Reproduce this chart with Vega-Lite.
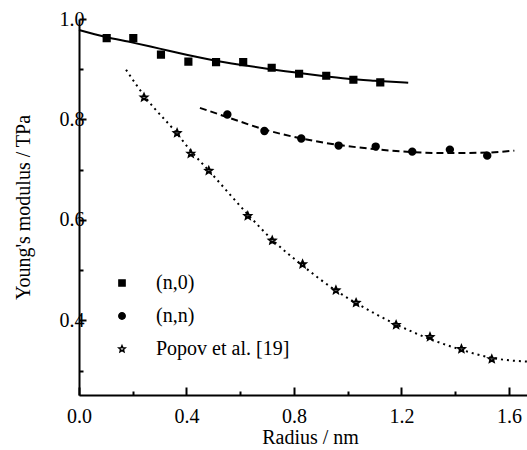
{
  "$schema": "https://vega.github.io/schema/vega-lite/v6.json",
  "width": 448,
  "height": 376,
  "autosize": {"type": "none"},
  "padding": {"left": 79, "top": 19, "right": 0, "bottom": 55},
  "background": "white",
  "config": {
    "view": {"stroke": null},
    "font": "Liberation Serif",
    "axis": {
      "labelFont": "Liberation Serif",
      "labelFontSize": 20,
      "labelColor": "black",
      "titleFont": "Liberation Serif",
      "titleFontSize": 20,
      "titleFontWeight": "normal",
      "titleColor": "black",
      "domainColor": "black",
      "domainWidth": 2,
      "tickColor": "black",
      "tickWidth": 2,
      "grid": false
    },
    "legend": {
      "labelFont": "Liberation Serif",
      "labelFontSize": 20,
      "labelColor": "black"
    }
  },
  "datasets": {
    "pts": [
      {"series": "(n,0)", "r": 0.103, "E": 0.962},
      {"series": "(n,0)", "r": 0.202, "E": 0.962},
      {"series": "(n,0)", "r": 0.305, "E": 0.929},
      {"series": "(n,0)", "r": 0.407, "E": 0.915},
      {"series": "(n,0)", "r": 0.510, "E": 0.914},
      {"series": "(n,0)", "r": 0.611, "E": 0.914},
      {"series": "(n,0)", "r": 0.717, "E": 0.903},
      {"series": "(n,0)", "r": 0.819, "E": 0.891},
      {"series": "(n,0)", "r": 0.920, "E": 0.887},
      {"series": "(n,0)", "r": 1.021, "E": 0.879},
      {"series": "(n,0)", "r": 1.121, "E": 0.874},
      {"series": "(n,n)", "r": 0.552, "E": 0.810},
      {"series": "(n,n)", "r": 0.690, "E": 0.777},
      {"series": "(n,n)", "r": 0.827, "E": 0.762},
      {"series": "(n,n)", "r": 0.966, "E": 0.748},
      {"series": "(n,n)", "r": 1.104, "E": 0.746},
      {"series": "(n,n)", "r": 1.240, "E": 0.736},
      {"series": "(n,n)", "r": 1.380, "E": 0.740},
      {"series": "(n,n)", "r": 1.519, "E": 0.728},
      {"series": "Popov et al. [19]", "r": 0.242, "E": 0.844},
      {"series": "Popov et al. [19]", "r": 0.365, "E": 0.773},
      {"series": "Popov et al. [19]", "r": 0.416, "E": 0.732},
      {"series": "Popov et al. [19]", "r": 0.483, "E": 0.698},
      {"series": "Popov et al. [19]", "r": 0.628, "E": 0.608},
      {"series": "Popov et al. [19]", "r": 0.719, "E": 0.559},
      {"series": "Popov et al. [19]", "r": 0.832, "E": 0.512},
      {"series": "Popov et al. [19]", "r": 0.956, "E": 0.460},
      {"series": "Popov et al. [19]", "r": 1.031, "E": 0.435},
      {"series": "Popov et al. [19]", "r": 1.180, "E": 0.391},
      {"series": "Popov et al. [19]", "r": 1.306, "E": 0.367},
      {"series": "Popov et al. [19]", "r": 1.423, "E": 0.343},
      {"series": "Popov et al. [19]", "r": 1.536, "E": 0.323}
    ],
    "curves": [
      {"fit": "a", "r": 0.0, "E": 0.978},
      {"fit": "a", "r": 0.1, "E": 0.964},
      {"fit": "a", "r": 0.2, "E": 0.953},
      {"fit": "a", "r": 0.3, "E": 0.941},
      {"fit": "a", "r": 0.4, "E": 0.929},
      {"fit": "a", "r": 0.5, "E": 0.918},
      {"fit": "a", "r": 0.6, "E": 0.909},
      {"fit": "a", "r": 0.7, "E": 0.901},
      {"fit": "a", "r": 0.8, "E": 0.894},
      {"fit": "a", "r": 0.9, "E": 0.887},
      {"fit": "a", "r": 1.0, "E": 0.881},
      {"fit": "a", "r": 1.1, "E": 0.877},
      {"fit": "a", "r": 1.225, "E": 0.873},
      {"fit": "b", "r": 0.45, "E": 0.823},
      {"fit": "b", "r": 0.55, "E": 0.805},
      {"fit": "b", "r": 0.69, "E": 0.780},
      {"fit": "b", "r": 0.83, "E": 0.762},
      {"fit": "b", "r": 0.97, "E": 0.749},
      {"fit": "b", "r": 1.10, "E": 0.741},
      {"fit": "b", "r": 1.24, "E": 0.735},
      {"fit": "b", "r": 1.38, "E": 0.733},
      {"fit": "b", "r": 1.52, "E": 0.734},
      {"fit": "b", "r": 1.62, "E": 0.738},
      {"fit": "c", "r": 0.175, "E": 0.899},
      {"fit": "c", "r": 0.25, "E": 0.842},
      {"fit": "c", "r": 0.36, "E": 0.775},
      {"fit": "c", "r": 0.42, "E": 0.735},
      {"fit": "c", "r": 0.48, "E": 0.700},
      {"fit": "c", "r": 0.63, "E": 0.610},
      {"fit": "c", "r": 0.72, "E": 0.560},
      {"fit": "c", "r": 0.83, "E": 0.510},
      {"fit": "c", "r": 0.96, "E": 0.458},
      {"fit": "c", "r": 1.03, "E": 0.435},
      {"fit": "c", "r": 1.18, "E": 0.392},
      {"fit": "c", "r": 1.31, "E": 0.362},
      {"fit": "c", "r": 1.42, "E": 0.342},
      {"fit": "c", "r": 1.54, "E": 0.325},
      {"fit": "c", "r": 1.667, "E": 0.318}
    ]
  },
  "encoding": {
    "x": {
      "field": "r", "type": "quantitative",
      "scale": {"domain": [0, 1.667], "nice": false, "zero": false},
      "axis": {
        "title": "Radius / nm",
        "values": [0, 0.2, 0.4, 0.6, 0.8, 1.0, 1.2, 1.4, 1.6],
        "labelExpr": "round(datum.value*10) % 4 == 0 ? format(datum.value, '.1f') : ''",
        "tickSize": {"condition": {"test": "round(datum.value*10) % 4 == 0", "value": -8}, "value": -4},
        "labelPadding": 19,
        "labelFlush": false,
        "titlePadding": 1,
        "titleX": 231
      }
    },
    "y": {
      "field": "E", "type": "quantitative",
      "scale": {"domain": [0.2515, 1.0], "nice": false, "zero": false},
      "axis": {
        "title": "Young's modulus / TPa",
        "values": [0.3, 0.4, 0.5, 0.6, 0.7, 0.8, 0.9, 1.0],
        "labelExpr": "round(datum.value*10) % 2 == 0 ? format(datum.value, '.1f') : ''",
        "tickSize": {"condition": {"test": "round(datum.value*10) % 2 == 0", "value": -7}, "value": -4},
        "labelPadding": 2,
        "labelFlush": false,
        "titlePadding": 26
      }
    }
  },
  "layer": [
    {
      "data": {"name": "curves"},
      "transform": [{"filter": "datum.fit == 'a'"}],
      "mark": {"type": "line", "interpolate": "monotone", "color": "black", "strokeWidth": 2}
    },
    {
      "data": {"name": "curves"},
      "transform": [{"filter": "datum.fit == 'b'"}],
      "mark": {"type": "line", "interpolate": "monotone", "color": "black", "strokeWidth": 2, "strokeDash": [7, 4]}
    },
    {
      "data": {"name": "curves"},
      "transform": [{"filter": "datum.fit == 'c'"}],
      "mark": {"type": "line", "interpolate": "monotone", "color": "black", "strokeWidth": 2, "strokeDash": [2, 4]}
    },
    {
      "data": {"name": "pts"},
      "mark": {"type": "point", "filled": false, "stroke": "black", "strokeWidth": 2, "opacity": 1},
      "encoding": {
        "shape": {
          "field": "series", "type": "nominal",
          "scale": {"domain": ["(n,0)", "(n,n)", "Popov et al. [19]"], "range": ["square", "circle", "M0,-1L0.265,-0.364L0.951,-0.309L0.428,0.139L0.588,0.809L0,0.45L-0.588,0.809L-0.428,0.139L-0.951,-0.309L-0.265,-0.364Z"]},
          "legend": {
            "title": null, "orient": "none", "legendX": 33, "legendY": 254,
            "labelOffset": 24, "rowPadding": 13
          }
        },
        "fill": {
          "field": "series", "type": "nominal",
          "scale": {"domain": ["(n,0)", "(n,n)", "Popov et al. [19]"], "range": ["black", "black", "white"]},
          "legend": {
            "title": null, "orient": "none", "legendX": 33, "legendY": 254,
            "labelOffset": 24, "rowPadding": 13
          }
        },
        "size": {
          "field": "series", "type": "nominal",
          "scale": {"domain": ["(n,0)", "(n,n)", "Popov et al. [19]"], "range": [38, 44, 52]},
          "legend": {
            "title": null, "orient": "none", "legendX": 33, "legendY": 254,
            "labelOffset": 24, "rowPadding": 13
          }
        }
      }
    }
  ]
}
